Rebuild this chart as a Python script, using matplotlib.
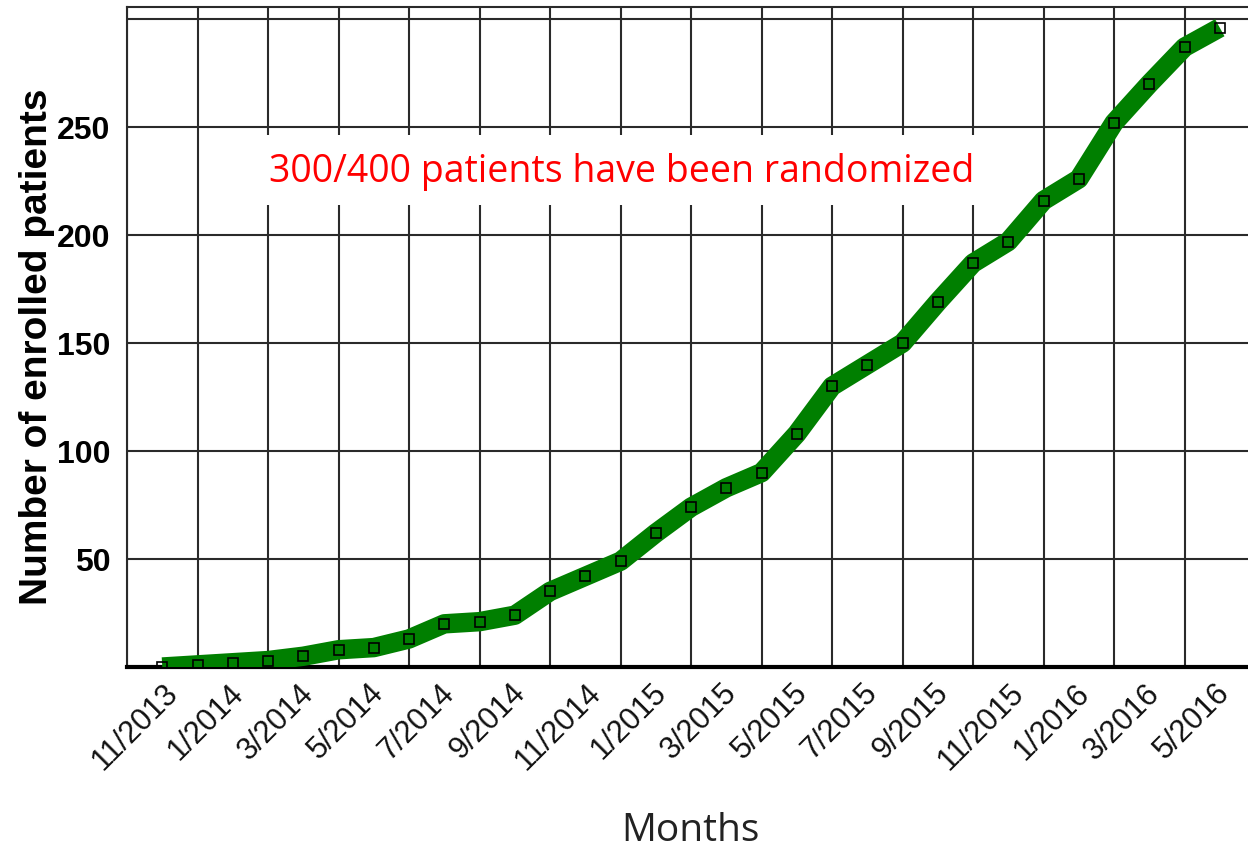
import matplotlib
matplotlib.use("Agg")
import matplotlib.pyplot as plt
import matplotlib.patches as patches

# month index 0 = 11/2013
tick_pos = list(range(0, 31, 2))
tick_labels = ["11/2013", "1/2014", "3/2014", "5/2014", "7/2014", "9/2014",
               "11/2014", "1/2015", "3/2015", "5/2015", "7/2015", "9/2015",
               "11/2015", "1/2016", "3/2016", "5/2016"]

months = list(range(1, 32))  # 12/2013 .. 6/2016
enrolled = [0, 1, 2, 3, 5, 8, 9, 13, 20, 21, 24, 35, 42, 49, 62, 74, 83, 90,
            108, 130, 140, 150, 169, 187, 197, 216, 226, 252, 270, 287, 296]

y_ticks = [50, 100, 150, 200, 250, 300]
y_labels = ["50", "100", "150", "200", "250", ""]

note = "300/400 patients have been randomized"

fig = plt.figure(figsize=(12.48, 8.52), dpi=100)
ax = fig.add_axes([0.1018, 0.2171, 0.8982, 0.7747])

ax.set_xlim(0, 31.8)
ax.set_ylim(0, 305.6)

# gridlines on minor ticks, labels on major ticks nudged a bit to the right
ax.set_xticks(tick_pos, minor=True)
ax.set_xticks([p + 0.23 for p in tick_pos])
ax.set_xticklabels(tick_labels, rotation=45, ha="center", va="top",
                   fontsize=22, family="Liberation Sans", color="#111111")
ax.set_yticks(y_ticks)
ax.set_yticklabels(y_labels, fontsize=23, fontweight="bold", family="Liberation Sans")
ax.tick_params(axis="both", which="both", length=0)
ax.tick_params(axis="y", pad=12)
ax.tick_params(axis="x", pad=8)

ax.xaxis.grid(True, which="minor", color="#2a2a2a", linewidth=1.5, zorder=0)
ax.xaxis.grid(False, which="major")
ax.yaxis.grid(True, color="#2a2a2a", linewidth=1.5, zorder=0)
ax.set_axisbelow(True)

ax.spines["right"].set_visible(False)
ax.spines["left"].set_linewidth(1.5)
ax.spines["left"].set_color("#2a2a2a")
ax.spines["top"].set_linewidth(1.5)
ax.spines["top"].set_color("#2a2a2a")
ax.spines["bottom"].set_linewidth(3)
ax.spines["bottom"].set_color("black")

# white box behind the note
ax.add_patch(patches.Rectangle((2.07, 214), 23.83, 32.5, facecolor="white",
                               edgecolor="none", zorder=1))
ax.text(14.04, 229, note, color="red", fontsize=27, family="Open Sans",
        ha="center", va="center", zorder=2)

ax.plot(months, enrolled, color="#007f00", linewidth=14, solid_capstyle="butt",
        solid_joinstyle="round", zorder=3)
ax.plot(months, enrolled, linestyle="none", marker="s", markersize=7,
        markerfacecolor="none", markeredgecolor="black", markeredgewidth=1.2,
        zorder=4)

ax.set_ylabel("Number of enrolled patients", fontsize=28, fontweight="bold",
              family="Liberation Sans", va="center")
ax.yaxis.set_label_coords(-0.080, 0.485)
fig.text(0.553, 0.0245, "Months", fontsize=28, family="Open Sans",
         ha="center", va="center", color="#222222")

fig.savefig("out.png", dpi=100)
